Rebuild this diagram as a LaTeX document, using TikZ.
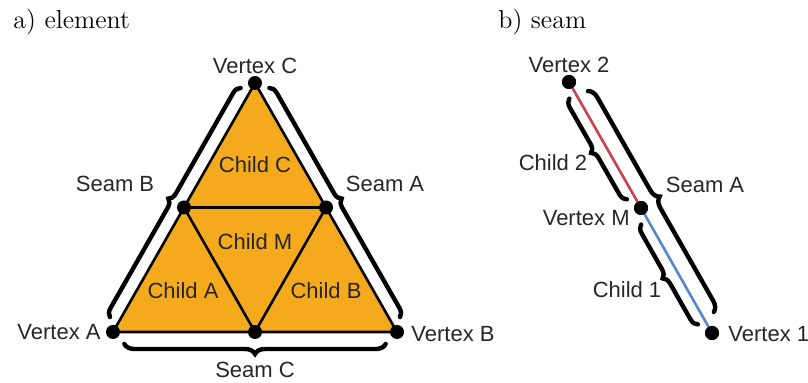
\documentclass[tikz,border=0pt]{standalone}
\usepackage{fontspec}
\newfontfamily\labelfont{Liberation Sans}
\usetikzlibrary{decorations.pathreplacing,calc}

\definecolor{childorange}{RGB}{245,170,30}
\definecolor{halfred}{RGB}{205,65,80}
\definecolor{halfblue}{RGB}{85,135,205}

\tikzset{
  vdot/.style={circle,fill=black,inner sep=0pt,minimum size=7pt},
  lbl/.style={font=\labelfont\fontsize{11}{13}\selectfont,text=black!85,inner sep=1pt},
  paneltitle/.style={font=\fontsize{13}{15}\selectfont,inner sep=0pt},
  seambrace/.style={decorate,decoration={brace,amplitude=#1},line width=2.2pt,line cap=round},
  childedge/.style={line width=1.3pt}
}

\begin{document}
\begin{tikzpicture}[x=0.5pt,y=-0.5pt]
  \useasboundingbox (0,0) rectangle (808,383);

  % a) element
  \node[paneltitle,anchor=west] (ta) at (13,22) {a) element};
  \coordinate (A) at (113,332);
  \coordinate (B) at (397,332);
  \coordinate (C) at (255,83);
  \coordinate (AC) at ($(A)!0.5!(C)$);
  \coordinate (BC) at ($(B)!0.5!(C)$);
  \coordinate (AB) at ($(A)!0.5!(B)$);
  \fill[childorange] (A) -- (B) -- (C) -- cycle;
  \draw[childedge] (A) -- (B) -- (C) -- cycle;
  \draw[childedge] (AC) -- (BC) -- (AB) -- cycle;
  \node[vdot] (vA) at (A) {};
  \node[vdot] (vB) at (B) {};
  \node[vdot] (vC) at (C) {};
  \node[vdot] (mAC) at (AC) {};
  \node[vdot] (mBC) at (BC) {};
  \node[vdot] (mAB) at (AB) {};
  \node[lbl] (cC) at (255,165) {Child C};
  \node[lbl] (cM) at (255,242) {Child M};
  \node[lbl] (cA) at (183,291) {Child A};
  \node[lbl] (cB) at (326,291) {Child B};
  \node[lbl,anchor=south] (lC) at (255,76) {Vertex C};
  \node[lbl,anchor=east] (lA) at (103,332) {Vertex A};
  \node[lbl,anchor=west] (lB) at (409,334) {Vertex B};
  % seams of the element
  \draw[seambrace=4pt] ($(vA.center)!0.04!(vC.center)!5pt!90:(vC.center)$)
    -- ($(vC.center)!0.04!(vA.center)!5pt!-90:(vA.center)$);
  \draw[seambrace=4pt] ($(vC.center)!0.04!(vB.center)!5pt!90:(vB.center)$)
    -- ($(vB.center)!0.04!(vC.center)!5pt!-90:(vC.center)$);
  \draw[seambrace=5pt] ($(vB.center)!0.04!(vA.center)!6pt!90:(vA.center)$)
    -- ($(vA.center)!0.04!(vB.center)!6pt!-90:(vB.center)$);
  \node[lbl] (sB) at (115,184) {Seam B};
  \node[lbl] (sA) at (385,184) {Seam A};
  \node[lbl] (sC) at (255,370) {Seam C};

  % b) seam
  \node[paneltitle,anchor=west] (tb) at (498,22) {b) seam};
  \node[vdot] (v2) at (569,82) {};
  \node[vdot] (vm) at (641,208) {};
  \node[vdot] (v1) at (712,333) {};
  \draw[halfred,line width=1.3pt] (v2.center) -- (vm.center);
  \draw[halfblue,line width=1.3pt] (vm.center) -- (v1.center);
  \node[vdot] at (vm) {};
  \node[vdot] at (v2) {};
  \node[vdot] at (v1) {};
  \draw[seambrace=5pt] ($(v2.center)!0.06!(v1.center)!6pt!90:(v1.center)$)
    -- ($(v1.center)!0.06!(v2.center)!6pt!-90:(v2.center)$);
  \draw[seambrace=4pt] ($(vm.center)!0.1!(v2.center)!4pt!90:(v2.center)$)
    -- ($(v2.center)!0.1!(vm.center)!4pt!-90:(vm.center)$);
  \draw[seambrace=4pt] ($(v1.center)!0.1!(vm.center)!4pt!90:(vm.center)$)
    -- ($(vm.center)!0.1!(v1.center)!4pt!-90:(v1.center)$);
  \node[lbl,anchor=south] (l2) at (569,75) {Vertex 2};
  \node[lbl,anchor=east] (lm) at (632,218) {Vertex M};
  \node[lbl,anchor=west] (l1) at (726,334) {Vertex 1};
  \node[lbl] (s2) at (553,163) {Child 2};
  \node[lbl] (s1) at (627,290) {Child 1};
  \node[lbl] (sa) at (705,185) {Seam A};
\end{tikzpicture}
\end{document}
